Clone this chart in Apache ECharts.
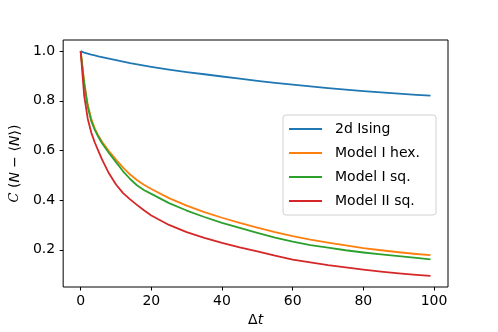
<!DOCTYPE html>
<html>
<head>
<meta charset="utf-8">
<script src="https://cdn.jsdelivr.net/npm/echarts@6/dist/echarts.min.js"></script>
<style>
  html, body { margin: 0; padding: 0; background: #fff; }
  #chart { width: 498px; height: 332px; }
</style>
</head>
<body>
<div id="chart"></div>
<script>
// Δt values
const dt = [0, 1, 2, 3, 4, 5, 6, 8, 10, 12, 14, 16, 18, 20, 25, 30, 35, 40, 45, 50, 55, 60, 65, 70, 75, 80, 85, 90, 95, 99];
const ising = [1.0, 0.994, 0.990, 0.986, 0.983, 0.979, 0.976, 0.970, 0.964, 0.958, 0.952, 0.947, 0.942, 0.937, 0.926, 0.916, 0.907, 0.898, 0.889, 0.880, 0.872, 0.865, 0.858, 0.851, 0.845, 0.839, 0.834, 0.829, 0.824, 0.821];
const modelIHex = [1.0, 0.875, 0.785, 0.728, 0.688, 0.660, 0.636, 0.598, 0.563, 0.531, 0.503, 0.480, 0.461, 0.445, 0.408, 0.378, 0.352, 0.329, 0.308, 0.289, 0.271, 0.255, 0.241, 0.229, 0.218, 0.207, 0.198, 0.190, 0.183, 0.178];
const modelISq = [1.0, 0.870, 0.775, 0.718, 0.683, 0.655, 0.630, 0.590, 0.553, 0.516, 0.485, 0.459, 0.440, 0.425, 0.388, 0.358, 0.332, 0.308, 0.288, 0.268, 0.249, 0.233, 0.219, 0.209, 0.198, 0.189, 0.181, 0.174, 0.167, 0.161];
const modelIISq = [1.0, 0.820, 0.728, 0.672, 0.632, 0.598, 0.565, 0.508, 0.463, 0.428, 0.403, 0.380, 0.358, 0.338, 0.300, 0.271, 0.248, 0.228, 0.210, 0.194, 0.176, 0.160, 0.149, 0.138, 0.129, 0.120, 0.112, 0.105, 0.099, 0.095];

const names = ['2d Ising', 'Model I hex.', 'Model I sq.', 'Model II sq.'];
const colors = ['#1f77b4', '#ff7f0e', '#2ca02c', '#d62728'];
const xTicks = [0, 20, 40, 60, 80, 100];
const yTicks = [0.2, 0.4, 0.6, 0.8, 1.0];

const font = 'DejaVu Sans';
const chart = echarts.init(document.getElementById('chart'), null, { renderer: 'canvas' });

function line(name, ys, color) {
  return {
    name: name,
    type: 'line',
    data: dt.map((x, i) => [x, ys[i]]),
    symbol: 'none',
    showSymbol: false,
    lineStyle: { color: color, width: 1.8, join: 'round' },
    itemStyle: { color: color },
  };
}

chart.setOption({
  animation: false,
  color: colors,
  grid: {
    left: 62, top: 40, width: 386, height: 250,
    show: true, borderColor: '#000', borderWidth: 1,
    backgroundColor: 'transparent',
  },
  legend: {
    orient: 'vertical',
    left: 283, top: 115,
    padding: [7, 16, 7, 6],
    icon: 'rect',
    itemWidth: 33, itemHeight: 2, itemGap: 10,
    backgroundColor: '#fff',
    borderColor: '#d0d0d0', borderWidth: 1, borderRadius: 3,
    data: names,
    textStyle: { fontFamily: font, fontSize: 14, color: '#000', padding: [0, 0, 0, 8], lineHeight: 14 },
  },
  xAxis: {
    type: 'value',
    min: -4.95, max: 103.95,
    name: 'Δ{i|t}',
    nameLocation: 'middle',
    nameGap: 26,
    nameTextStyle: {
      fontFamily: font, fontSize: 14, color: '#000',
      rich: { i: { fontFamily: font, fontStyle: 'italic', fontSize: 14, color: '#000' } },
    },
    axisLine: { show: false, onZero: false },
    splitLine: { show: false },
    axisTick: { show: true, customValues: xTicks, length: 3.5, lineStyle: { color: '#000' } },
    axisLabel: { customValues: xTicks, margin: 7, fontFamily: font, fontSize: 14, color: '#000' },
  },
  yAxis: {
    type: 'value',
    min: 0.05, max: 1.045,
    name: '{c|C} ({i|N} − ⟨{i|N}⟩)',
    nameLocation: 'middle',
    nameGap: 37,
    nameRotate: 90,
    nameTextStyle: {
      fontFamily: font, fontSize: 14, color: '#000',
      rich: {
        c: { fontFamily: 'DejaVu Serif', fontStyle: 'italic', fontSize: 13, color: '#000' },
        i: { fontFamily: font, fontStyle: 'italic', fontSize: 14, color: '#000' },
      },
    },
    axisLine: { show: false, onZero: false },
    splitLine: { show: false },
    axisTick: { show: true, customValues: yTicks, length: 3.5, lineStyle: { color: '#000' } },
    axisLabel: {
      customValues: yTicks, margin: 8, fontFamily: font, fontSize: 14, color: '#000',
      formatter: v => v.toFixed(1),
    },
  },
  series: [
    line(names[0], ising, colors[0]),
    line(names[1], modelIHex, colors[1]),
    line(names[2], modelISq, colors[2]),
    line(names[3], modelIISq, colors[3]),
  ],
});
</script>
</body>
</html>
